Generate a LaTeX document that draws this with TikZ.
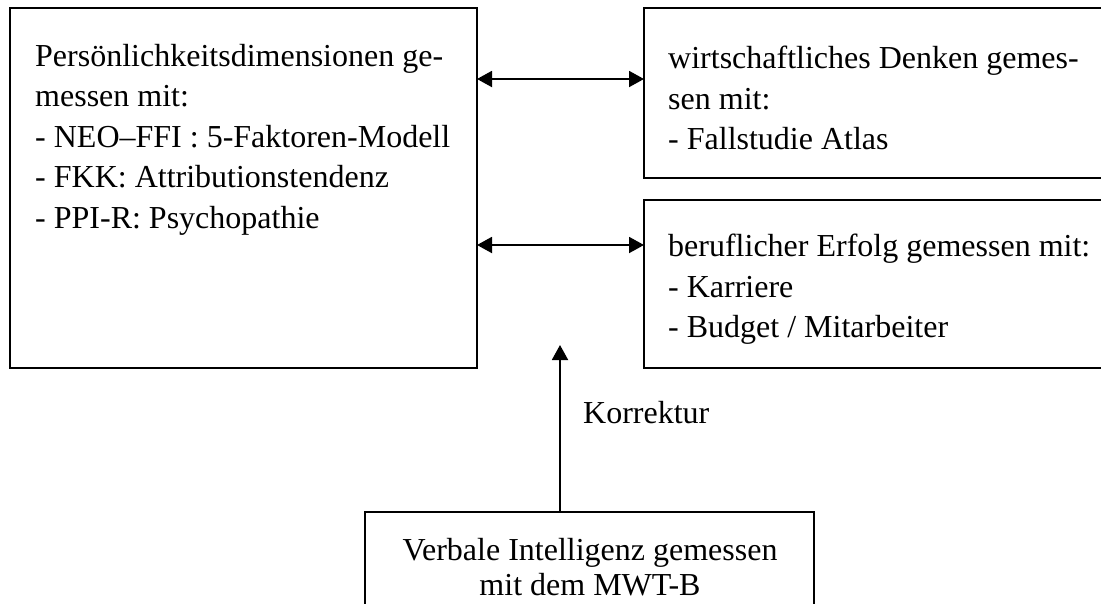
\documentclass[tikz,border=0pt]{standalone}
\usepackage{fontspec}
\setmainfont{Liberation Serif}
\usetikzlibrary{arrows.meta,calc}
\tikzset{
  boxline/.style={draw=black, line width=1.9pt, rectangle},
  txt/.style={font=\fontsize{32}{40.5}\selectfont, inner sep=0pt, align=left, anchor=north west},
  conn/.style={line width=1.9pt, -{Triangle[length=15pt,width=16pt]}},
  biconn/.style={line width=1.9pt, {Triangle[length=15pt,width=16pt]}-{Triangle[length=15pt,width=16pt]}}
}
\begin{document}
\begin{tikzpicture}[x=1pt,y=-1pt]
\useasboundingbox (0,0) rectangle (1101,603);
\clip (0,0) rectangle (1101,603);
\fill[white] (0,0) rectangle (1101,603);
% boxes
\draw[boxline] (10,8) rectangle (477,368);
\draw[boxline] (644,8) rectangle (1115,178);
\draw[boxline] (644,200) rectangle (1115,368);
\draw[boxline] (365,512) rectangle (814,640);
\coordinate (vN) at (560,512);
% texts
\node[txt] (ptext) at (35,44) {Persönlichkeitsdimensionen ge-\\messen mit:\\- NEO–FFI : 5-Faktoren-Modell\\- FKK: Attributionstendenz\\- PPI-R: Psychopathie};
\node[txt] (wtext) at (668,46) {wirtschaftliches Denken gemes-\\sen mit:\\- Fallstudie Atlas};
\node[txt] (btext) at (668,234) {beruflicher Erfolg gemessen mit:\\- Karriere\\- Budget / Mitarbeiter};
\node[txt, font=\fontsize{32}{35}\selectfont, align=center, anchor=north] (vtext) at (590,538) {Verbale Intelligenz gemessen\\mit dem MWT-B};
\node[font=\fontsize{32}{40.5}\selectfont, inner sep=0pt, anchor=west] (kor) at (583,413) {Korrektur};
% connectors
\coordinate (a1l) at (477,79);
\coordinate (a1r) at (644,79);
\coordinate (a2l) at (477,245);
\coordinate (a2r) at (644,245);
\coordinate (a3t) at (560,345);
\draw[biconn] (a1l) -- (a1r);
\draw[biconn] (a2l) -- (a2r);
\draw[conn] (vN) -- (a3t);
\end{tikzpicture}
\end{document}
